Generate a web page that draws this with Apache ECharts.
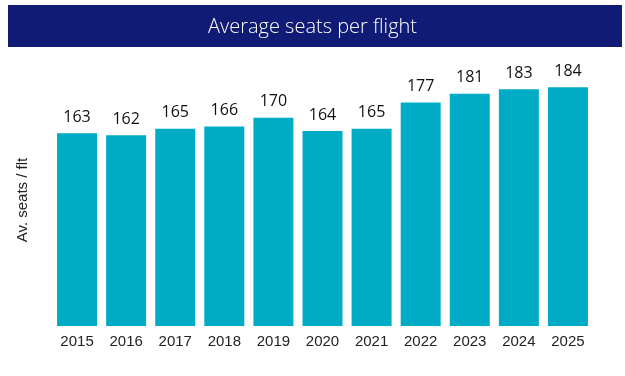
<!DOCTYPE html>
<html>
<head>
<meta charset="utf-8">
<script src="https://cdn.jsdelivr.net/npm/echarts@6/dist/echarts.min.js"></script>
<style>
html, body { margin: 0; padding: 0; background: #fff; }
#chart { width: 625px; height: 376px; }
</style>
</head>
<body>
<div id="chart"></div>
<script>
var years = ["2015", "2016", "2017", "2018", "2019", "2020", "2021", "2022", "2023", "2024", "2025"];
var seats = [163, 162, 165, 166, 170, 164, 165, 177, 181, 183, 184];
var titleText = "Average seats per flight";
var yName = "Av. seats / flt";

var myChart = echarts.init(document.getElementById("chart"));
var option = {
    backgroundColor: "#fff",
    animation: false,
    graphic: [
        {
            type: "rect",
            left: 8,
            top: 5,
            shape: { width: 614, height: 42 },
            style: { fill: "#0f1b74" },
            z: 0
        }
    ],
    title: {
        text: titleText,
        left: "center",
        top: 12,
        textStyle: {
            color: "#fff",
            fontFamily: "Open Sans",
            fontWeight: 300,
            fontSize: 20
        },
        z: 10
    },
    grid: {
        left: 52.5,
        right: 32.5,
        top: 74,
        bottom: 50
    },
    xAxis: {
        type: "category",
        data: years,
        axisLine: { show: false },
        axisTick: { show: false },
        axisLabel: {
            color: "#222",
            fontFamily: "Liberation Sans",
            fontSize: 15,
            margin: 8
        }
    },
    yAxis: {
        type: "value",
        min: 75,
        max: 190,
        name: yName,
        nameLocation: "middle",
        nameGap: 22,
        nameTextStyle: {
            color: "#222",
            fontFamily: "Liberation Sans",
            fontSize: 15
        },
        axisLine: { show: false },
        axisTick: { show: false },
        axisLabel: { show: false },
        splitLine: { show: false }
    },
    series: [
        {
            type: "bar",
            data: seats,
            barWidth: 40,
            itemStyle: { color: "#00abc6" },
            label: {
                show: true,
                position: "top",
                distance: 8,
                color: "#111",
                fontFamily: "Open Sans",
                fontSize: 16
            }
        }
    ]
};
myChart.setOption(option);
</script>
</body>
</html>
